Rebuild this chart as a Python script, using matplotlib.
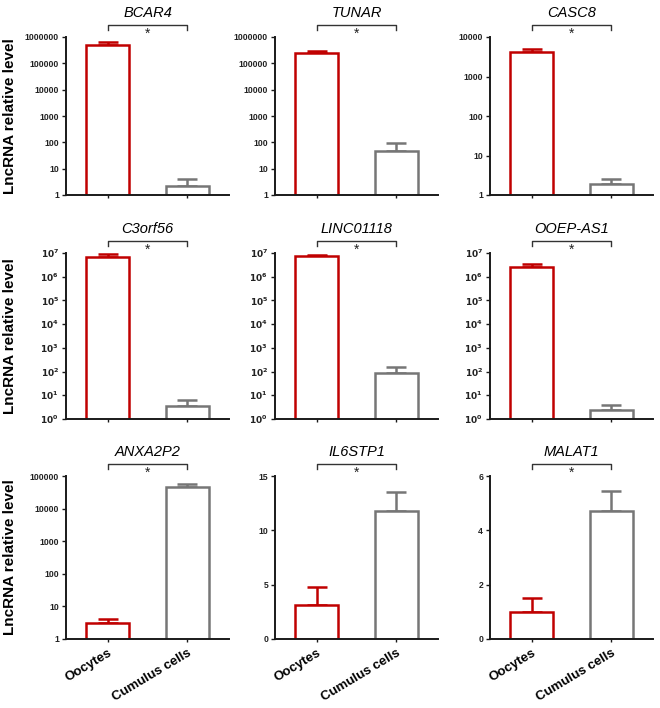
import matplotlib
matplotlib.use("Agg")
import matplotlib.pyplot as plt
import matplotlib.transforms as mtransforms
from matplotlib.ticker import FixedLocator, NullLocator, FixedFormatter

plt.rcParams['font.family'] = ['Liberation Sans', 'DejaVu Sans']

genes = ['BCAR4', 'TUNAR', 'CASC8', 'C3orf56', 'LINC01118', 'OOEP-AS1',
         'ANXA2P2', 'IL6STP1', 'MALAT1']
groups = ['Oocytes', 'Cumulus cells']
oocyte_mean = [4.8e5, 2.45e5, 4240, 6.8e6, 7.3e6, 2.56e6, 3.0, 3.12, 1.01]
oocyte_err = [1.6e5, 0.55e5, 790, 2.3e6, 1.0e6, 0.94e6, 1.25, 1.71, 0.49]
cumulus_mean = [2.26, 46, 1.88, 3.7, 83, 2.4, 46200, 11.74, 4.71]
cumulus_err = [1.64, 48, 0.72, 2.7, 80, 1.5, 11000, 1.81, 0.75]
log_scale = [True, True, True, True, True, True, True, False, False]
y_ticks = [
    [1, 10, 100, 1000, 10000, 100000, 1000000],
    [1, 10, 100, 1000, 10000, 100000, 1000000],
    [1, 10, 100, 1000, 10000],
    [1, 10, 100, 1e3, 1e4, 1e5, 1e6, 1e7],
    [1, 10, 100, 1e3, 1e4, 1e5, 1e6, 1e7],
    [1, 10, 100, 1e3, 1e4, 1e5, 1e6, 1e7],
    [1, 10, 100, 1000, 10000, 100000],
    [0, 5, 10, 15],
    [0, 2, 4, 6],
]
sci_labels = [False, False, False, True, True, True, False, False, False]

RED = '#c00000'
GRAY = '#767676'
AX = '#1a1a1a'

W, H = 660, 708
fig = plt.figure(figsize=(W / 100, H / 100), dpi=100)

col_left = [66, 275, 490]
col_width = 163
row_top = [37, 253, 476]
row_bottom = [195, 419, 639]

for i, g in enumerate(genes):
    r, c = divmod(i, 3)
    left = col_left[c] / W
    bottom = 1 - row_bottom[r] / H
    height = (row_bottom[r] - row_top[r]) / H
    ax = fig.add_axes([left, bottom, col_width / W, height])

    x = [0, 1]
    means = [oocyte_mean[i], cumulus_mean[i]]
    errs = [oocyte_err[i], cumulus_err[i]]
    colors = [RED, GRAY]
    if log_scale[i]:
        ax.set_yscale('log')
    for xi, m, e, col in zip(x, means, errs, colors):
        ax.bar(xi, m, width=0.53, color='white', edgecolor=col, linewidth=1.8, zorder=2)
        ax.errorbar(xi, m, yerr=[[0], [e]], color=col, elinewidth=1.8,
                    capsize=7, capthick=1.8, fmt='none', zorder=1)

    ticks = y_ticks[i]
    ax.set_ylim(ticks[0], ticks[-1])
    ax.set_xlim(-0.52, 1.52)
    ax.yaxis.set_major_locator(FixedLocator(ticks))
    ax.yaxis.set_minor_locator(NullLocator())
    if sci_labels[i]:
        labs = [r'$\mathbf{10^{%d}}$' % k for k in range(len(ticks))]
        fs = 6.5
    else:
        labs = ['%d' % t for t in ticks]
        fs = 6.2
    ax.yaxis.set_major_formatter(FixedFormatter(labs))
    for s in ['top', 'right']:
        ax.spines[s].set_visible(False)
    for s in ['left', 'bottom']:
        ax.spines[s].set_color(AX)
        ax.spines[s].set_linewidth(1.4)
    ax.tick_params(axis='y', direction='out', length=3, width=1, color=AX,
                   labelsize=fs, pad=2, labelcolor='#222222')
    ax.tick_params(axis='x', direction='out', length=2, width=1, color=AX)
    for lab in ax.get_yticklabels():
        lab.set_fontweight('bold')
    ax.set_xticks(x)
    if r == 2:
        ax.set_xticklabels(groups, rotation=31, ha='right', rotation_mode='anchor',
                           fontsize=9.5, fontweight='bold')
    else:
        ax.set_xticklabels([])

    # title
    t = ax.text(0.5, 1.0, g, fontsize=10.5, style='italic', ha='center', va='bottom')
    t.set_transform(ax.transAxes +
                    mtransforms.ScaledTranslation(0, 17 / 100, fig.dpi_scale_trans))

    # significance bracket
    trans = mtransforms.blended_transform_factory(ax.transData, ax.transAxes)
    hpx = (row_bottom[r] - row_top[r])
    yb = 1 + 12.5 / hpx
    yt = 1 + 7.5 / hpx
    ax.plot([0, 0, 1, 1], [yt, yb, yb, yt], transform=trans, color='#333333',
            lw=1.0, clip_on=False)
    ax.text(0.5, yb - 2.5 / hpx, '*', transform=trans, ha='center', va='top',
            fontsize=10, color='#222222')

for r in range(3):
    yc = 1 - (row_top[r] + row_bottom[r]) / 2 / H
    fig.text(10 / W, yc, 'LncRNA relative level', rotation=90, ha='center',
             va='center', fontsize=11, fontweight='bold')

fig.savefig('out.png', dpi=100)
